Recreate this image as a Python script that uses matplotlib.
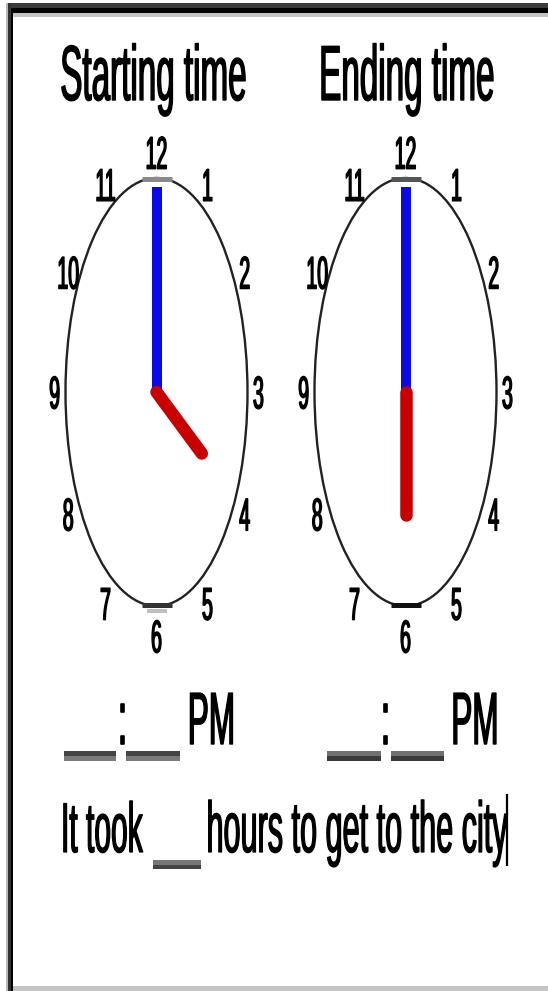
import numpy as np
import matplotlib
matplotlib.use("Agg")
import matplotlib.pyplot as plt
from matplotlib.patches import Ellipse, Rectangle
from matplotlib.patheffects import AbstractPathEffect
from matplotlib.transforms import Affine2D

# ---------------- data ----------------
titles = ["Starting time", "Ending time"]
clock_hours = [4, 6]          # hour shown on each clock
clock_minutes = [0, 0]        # minutes shown on each clock
dial_labels = ["12", "1", "2", "3", "4", "5", "6", "7", "8", "9", "10", "11"]
answer_suffix = ["PM", "PM"]
sentence_parts = ["It took", "hours to get to the city"]

# ---------------- style / layout ----------------
W, H, DPI = 548, 991, 100
SY = 2.35                      # vertical stretch of the squashed lettering
FONT = ["Liberation Sans", "DejaVu Sans"]


class StretchY(AbstractPathEffect):
    """Draw text glyphs stretched vertically about the baseline, slightly emboldened."""
    def __init__(self, sy, stroke=0.9):
        super().__init__()
        self.sy = sy
        self.stroke = stroke

    def draw_path(self, renderer, gc, tpath, affine, rgbFace=None):
        gc0 = renderer.new_gc()
        gc0.copy_properties(gc)
        gc0.set_linewidth(self.stroke)
        if rgbFace is not None:
            gc0.set_foreground(rgbFace)
        gc0.set_joinstyle("round")
        renderer.draw_path(gc0, tpath, Affine2D().scale(1.0, self.sy) + affine, rgbFace)
        gc0.restore()


def px2pt(px):
    return px * 72.0 / DPI


def text(ax, x, y, s, em_px, ha="center", color="black", stroke=0.9):
    ax.text(x, y, s, fontsize=px2pt(em_px), ha=ha, va="baseline", color=color,
            family=FONT, path_effects=[StretchY(SY, stroke)])


fig = plt.figure(figsize=(W / DPI, H / DPI), dpi=DPI)
ax = fig.add_axes([0, 0, 1, 1])
ax.set_xlim(0, W)
ax.set_ylim(H, 0)
ax.axis("off")

# ---- page border ----
border = [
    (6, 3, W - 6, 5, "#3c3c3c"),
    (6, 8, W - 6, 5, "#000000"),
    (13, 13, W - 13, 4, "#c4c4c4"),
    (6, 3, 2, H - 3, "#b8b8b8"),
    (8, 3, 3, H - 3, "#333333"),
    (11, 8, 2, H - 8, "#000000"),
    (13, 986, W - 13, 5, "#c4c4c4"),
]
for x0, y0, w, h, c in border:
    ax.add_patch(Rectangle((x0, y0), w, h, color=c, lw=0, zorder=5))

# ---- clocks ----
centers_x = [156.5, 405.5]
title_x = [153, 406.5]
cy = 392
a, b = 91, 214
top_bar_colors = ["#8a8a8a", "#555555"]
bot_bar_colors = ["#333333", "#111111"]

for i in range(2):
    cx = centers_x[i]
    text(ax, title_x[i], 100, titles[i], 33.2, stroke=1.0)

    ax.add_patch(Ellipse((cx, cy), 2 * a, 2 * b, fill=False,
                         edgecolor="#222222", lw=1.7, zorder=2))
    ax.plot([cx - 15, cx + 15], [cy - b + 1, cy - b + 1], color=top_bar_colors[i],
            lw=px2pt(5), solid_capstyle="butt", zorder=2)
    ax.plot([cx - 15, cx + 15], [cy + b - 1, cy + b - 1], color=bot_bar_colors[i],
            lw=px2pt(5), solid_capstyle="butt", zorder=2)
    if i == 0:
        ax.plot([cx - 10, cx + 10], [cy + b + 5, cy + b + 5], color="#c0c0c0",
                lw=px2pt(4), solid_capstyle="butt", zorder=2)

    # dial numbers
    em_d = 19.5
    for k, lab in enumerate(dial_labels):
        th = np.deg2rad(k * 30)
        ry = 1.12 if np.cos(th) > 0 else 1.14
        nx = cx + 1.12 * a * np.sin(th)
        ny = cy - ry * b * np.cos(th)
        text(ax, nx, ny + 0.358 * em_d * SY, lab, em_d, stroke=1.0)

    # hands
    m_ang = np.deg2rad(clock_minutes[i] * 6)
    h_ang = np.deg2rad((clock_hours[i] % 12 + clock_minutes[i] / 60) * 30)
    Lm, Lh = 0.96, 0.575
    ax.plot([cx, cx + Lm * a * np.sin(m_ang)], [cy, cy - Lm * b * np.cos(m_ang)],
            color="#0a0ae6", lw=px2pt(10), solid_capstyle="butt", zorder=3)
    ax.plot([cx, cx + Lh * a * np.sin(h_ang)], [cy, cy - Lh * b * np.cos(h_ang)],
            color="#c80000", lw=px2pt(12.5), solid_capstyle="round", zorder=4)

# ---- answer lines ----
colon_x = [122, 385.5]
under_x = [[(64, 116), (126, 180)], [(327, 381), (391, 444)]]
pm_x = [211.5, 475]
under_cols = [("#444444", "#7a7a7a"), ("#707070", "#3a3a3a")]
for i in range(2):
    for (x0, x1) in under_x[i]:
        ax.add_patch(Rectangle((x0, 751), x1 - x0, 5, color=under_cols[i][0], lw=0))
        ax.add_patch(Rectangle((x0, 756), x1 - x0, 5, color=under_cols[i][1], lw=0))
    text(ax, colon_x[i], 744, ":", 32, stroke=1.2)
    text(ax, pm_x[i], 744, answer_suffix[i], 31.5, stroke=1.0)

# ---- sentence ----
text(ax, 61, 852, sentence_parts[0], 30.0, ha="left")
ax.add_patch(Rectangle((153, 860), 48, 5, color="#777777", lw=0))
ax.add_patch(Rectangle((153, 865), 48, 4, color="#444444", lw=0))
text(ax, 206.5, 852, sentence_parts[1], 30.6, ha="left")
ax.plot([507, 507], [794, 866], color="black", lw=px2pt(2.2), solid_capstyle="butt")

fig.savefig("out.png", dpi=DPI, facecolor="white")
